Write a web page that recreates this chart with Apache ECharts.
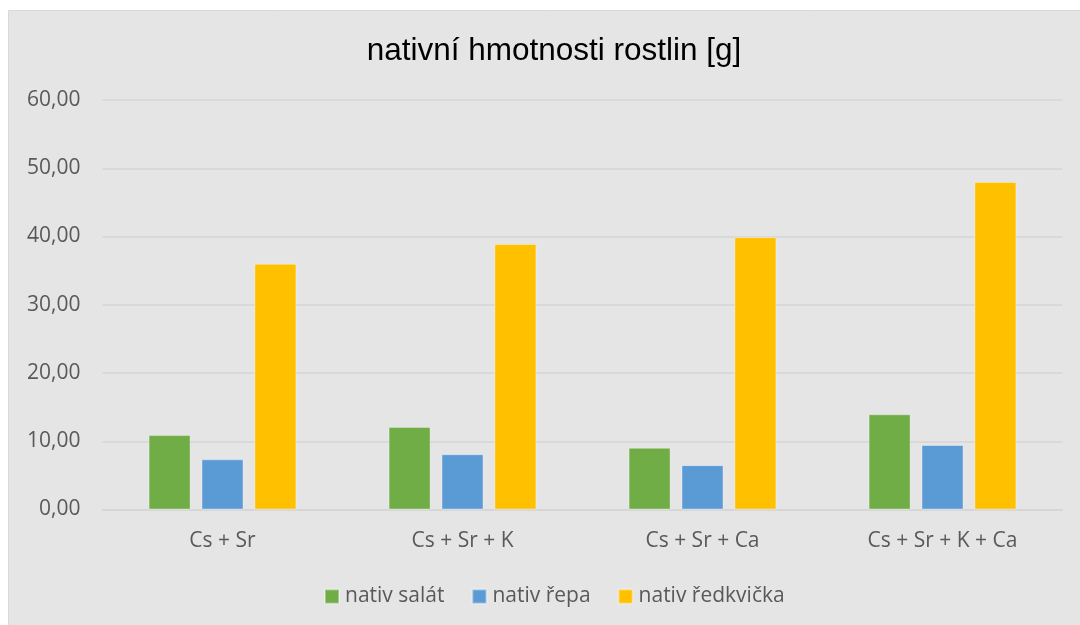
<!DOCTYPE html>
<html>
<head>
<meta charset="utf-8">
<script src="https://cdn.jsdelivr.net/npm/echarts@6/dist/echarts.min.js"></script>
<style>
html,body{margin:0;padding:0;background:#ffffff;}
#c{width:1080px;height:625px;}
</style>
</head>
<body>
<div id="c"></div>
<script>
const categories = ['Cs + Sr', 'Cs + Sr + K', 'Cs + Sr + Ca', 'Cs + Sr + K + Ca'];
const seriesNames = ['nativ salát', 'nativ řepa', 'nativ ředkvička'];
const salat = [10.9, 12.1, 9.05, 13.95];
const repa = [7.35, 8.1, 6.5, 9.45];
const redkvicka = [36.0, 38.9, 39.9, 48.0];
const yTicks = [0, 10, 20, 30, 40, 50, 60];
const colors = ['#70AD47', '#5B9BD5', '#FFC000'];

const chart = echarts.init(document.getElementById('c'));
const txt = '#595959';
const font = '"Open Sans", "Noto Sans", sans-serif';
function bar(name, data, color) {
  return {
    name: name, type: 'bar', data: data, barWidth: 42, barGap: '26%',
    itemStyle: { color: color, borderColor: 'rgba(255,255,255,0.35)', borderWidth: 1 }
  };
}
chart.setOption({
  backgroundColor: '#ffffff',
  animation: false,
  graphic: [{
    type: 'rect', left: 8, top: 10, z: -10,
    shape: { width: 1090, height: 630 },
    style: { fill: '#e5e5e5', stroke: '#d9d9d9', lineWidth: 1 }
  }],
  title: {
    text: 'nativní hmotnosti rostlin [g]',
    left: 549, top: 30, textAlign: 'center',
    textStyle: { fontFamily: '"Liberation Sans", Arial, sans-serif', fontSize: 31.5, fontWeight: 'normal', color: '#000000' }
  },
  legend: {
    data: seriesNames, bottom: 13, left: 319,
    itemWidth: 14, itemHeight: 14, itemGap: 27,
    icon: 'rect',
    textStyle: { fontFamily: font, fontSize: 21, color: txt, padding: [0, 0, 0, 1] }
  },
  grid: { left: 102.5, right: 17.5, top: 100, bottom: 115.5, containLabel: false },
  xAxis: {
    type: 'category', data: categories,
    axisLine: { lineStyle: { color: '#d5d5d5', width: 1.5 } },
    axisTick: { show: false },
    axisLabel: { fontFamily: font, fontSize: 21, color: txt, margin: 21 }
  },
  yAxis: {
    type: 'value', min: yTicks[0], max: yTicks[yTicks.length - 1], interval: 10,
    axisLine: { show: false }, axisTick: { show: false },
    splitLine: { lineStyle: { color: '#d5d5d5', width: 1.5 } },
    axisLabel: {
      fontFamily: font, fontSize: 21, color: txt, margin: 22,
      formatter: v => v.toFixed(2).replace('.', ',')
    }
  },
  series: [
    bar(seriesNames[0], salat, colors[0]),
    bar(seriesNames[1], repa, colors[1]),
    bar(seriesNames[2], redkvicka, colors[2])
  ]
});
</script>
</body>
</html>
